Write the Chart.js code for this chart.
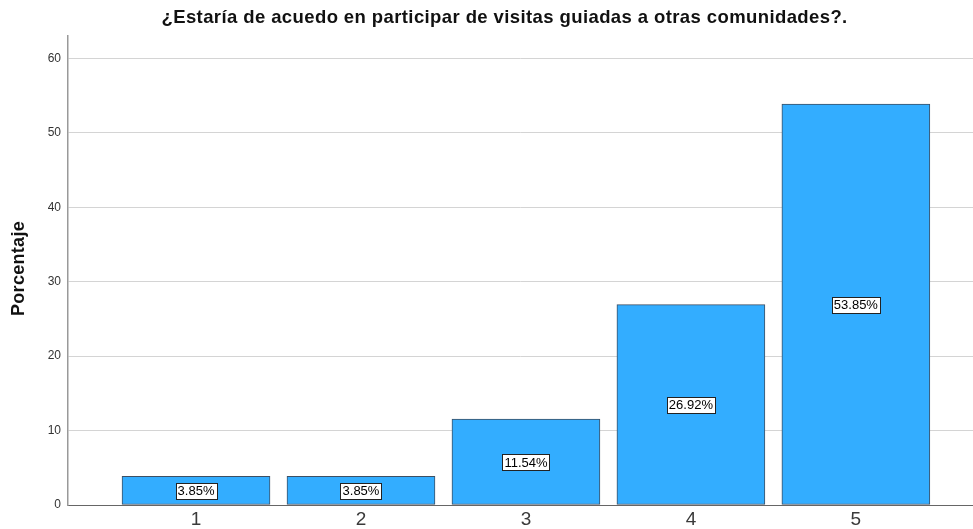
<!DOCTYPE html>
<html><head><meta charset="utf-8">
<script src="https://cdn.jsdelivr.net/npm/chart.js@4/dist/chart.umd.min.js"></script>
<style>html,body{margin:0;padding:0;background:#fff}#wrap{width:973px;height:529px}</style>
</head><body><div id="wrap"><canvas id="c" width="973" height="529"></canvas></div>
<script>
const categories = [1, 2, 3, 4, 5];
const percentages = [3.85, 3.85, 11.54, 26.92, 53.85];
const valueLabels = ["3.85%", "3.85%", "11.54%", "26.92%", "53.85%"];
const yTicks = [0, 10, 20, 30, 40, 50, 60];
const titleText = "¿Estaría de acuedo en participar de visitas guiadas a otras comunidades?.";
const yTitle = "Porcentaje";
const FONT = '"Liberation Sans", Arial, sans-serif';

const labelPlugin = {
  id: 'boxLabels',
  afterDatasetsDraw(chart) {
    const ctx = chart.ctx;
    const meta = chart.getDatasetMeta(0);
    const ys = chart.scales.y;
    ctx.save();
    ctx.font = '13px ' + FONT;
    ctx.textAlign = 'center';
    ctx.textBaseline = 'middle';
    meta.data.forEach((bar, i) => {
      const x = bar.x;
      const y = ys.getPixelForValue(percentages[i] / 2);
      const t = valueLabels[i];
      const w = Math.round(ctx.measureText(t).width + 4);
      const h = 16;
      const bx = Math.round(x - w / 2) + 0.5, by = Math.round(y - h / 2) + 0.5;
      ctx.fillStyle = '#fff';
      ctx.fillRect(bx, by, w, h);
      ctx.strokeStyle = '#222';
      ctx.lineWidth = 1;
      ctx.strokeRect(bx, by, w, h);
      ctx.fillStyle = '#000';
      ctx.fillText(t, x, y + 1);
    });
    ctx.restore();
  }
};
const textPlugin = {
  id: 'customTexts',
  afterDraw(chart) {
    const ctx = chart.ctx;
    const a = chart.chartArea;
    ctx.save();
    ctx.font = 'bold 18.5px ' + FONT;
    ctx.fillStyle = '#111';
    ctx.textAlign = 'center';
    ctx.textBaseline = 'middle';
    ctx.letterSpacing = '0.4px';
    ctx.fillText(titleText, a.left + (a.right - a.left) * 0.4824, 18);
    ctx.translate(19, (a.top + a.bottom) / 2 - 2);
    ctx.rotate(-Math.PI / 2);
    ctx.font = 'bold 18px ' + FONT;
    ctx.letterSpacing = '0.3px';
    ctx.fillText(yTitle, 0, 0);
    ctx.restore();
  }
};

new Chart(document.getElementById('c'), {
  type: 'bar',
  data: {
    datasets: [{
      data: categories.map((c, i) => ({ x: c, y: percentages[i] })),
      backgroundColor: '#33adff',
      borderColor: '#3d4f63',
      borderWidth: 1,
      barThickness: 148,
      borderSkipped: false
    }]
  },
  options: {
    responsive: false,
    animation: false,
    layout: { padding: { top: 36, right: 0, left: 0, bottom: 0 } },
    plugins: { legend: { display: false }, tooltip: { enabled: false }, title: { display: false } },
    scales: {
      x: {
        type: 'linear',
        offset: false,
        min: 0.224,
        max: 5.71,
        afterBuildTicks(s) { s.ticks = categories.map(v => ({ value: v })); },
        afterFit(s) { s.height = 24; },
        grid: { display: false, drawTicks: false },
        border: { color: '#666', width: 1 },
        ticks: { padding: 3, color: '#3a3a3a', font: { size: 19, family: FONT }, callback: v => String(v) }
      },
      y: {
        min: 0,
        max: 63,
        afterBuildTicks(s) { s.ticks = yTicks.map(v => ({ value: v })); },
        afterFit(s) { s.width = 68; },
        grid: { color: '#d4d4d4', lineWidth: 1, drawTicks: false },
        border: { color: '#999', width: 1.5 },
        ticks: { padding: 7, color: '#333', font: { size: 12, family: FONT } }
      }
    }
  },
  plugins: [labelPlugin, textPlugin]
});
</script></body></html>
